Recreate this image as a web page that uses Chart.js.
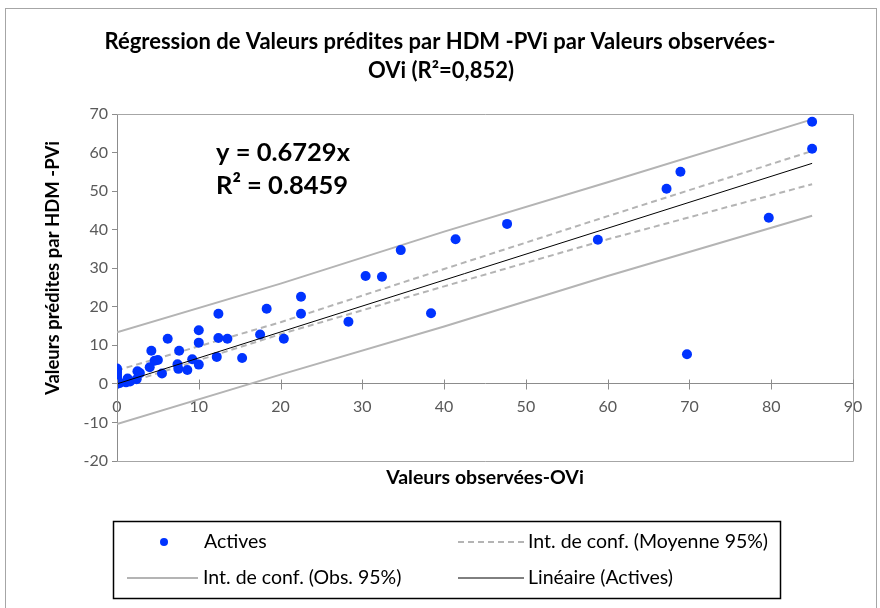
<!DOCTYPE html>
<html>
<head>
<meta charset="utf-8">
<script src="https://cdn.jsdelivr.net/npm/chart.js@4.4.1/dist/chart.umd.min.js"></script>
<style>
  body { margin: 0; background: #fff; }
  canvas { display: block; }
</style>
</head>
<body>
<canvas id="chart" width="880" height="608"></canvas>
<script>
var obsX = [0, 0, 0, 0, 0, 0, 0, 0, 0, 0.3, 1.1, 1.3, 1.6, 2.4, 2.5, 2.8, 4.0, 4.2, 4.6, 5.0,
            5.5, 6.2, 7.4, 7.5, 7.6, 8.6, 9.2, 10.0, 10.0, 10.0, 12.2, 12.4, 12.4, 13.5, 15.3,
            17.5, 18.3, 20.4, 22.5, 22.5, 28.3, 30.4, 32.4, 34.7, 38.4, 41.4, 47.7, 58.8,
            67.2, 68.9, 69.7, 79.7, 85.0, 85.0];
var predY = [0.0, 0.5, 1.0, 1.5, 2.0, 2.5, 3.0, 3.5, 4.0, 0.2, 0.4, 1.4, 0.6, 1.2, 3.3, 2.8, 4.3, 8.6, 6.0, 6.2,
             2.7, 11.7, 5.1, 3.9, 8.6, 3.6, 6.4, 5.0, 10.7, 13.9, 7.0, 18.2, 11.9, 11.7, 6.7,
             12.8, 19.5, 11.7, 22.6, 18.2, 16.1, 28.0, 27.8, 34.7, 18.3, 37.5, 41.5, 37.4,
             50.6, 55.0, 7.7, 43.1, 68.0, 61.0];

// confidence bands, read at a few x positions
var bandX     = [0, 20, 40, 60, 85];
var obsUpper  = [13.4, 26.0, 39.5, 52.3, 68.6];
var obsLower  = [-10.4, 2.4, 14.9, 28.0, 43.6];
var meanUpper = [3.5, 16.0, 29.8, 43.5, 60.4];
var meanLower = [-0.6, 12.9, 25.3, 37.5, 51.8];

// excel trendline y = 0.6729x
var fitX = [0, 85];
var fitY = [0, 57.2];

var xTicks = [0, 10, 20, 30, 40, 50, 60, 70, 80, 90];
var yTicks = [-20, -10, 0, 10, 20, 30, 40, 50, 60, 70];

var chartTitle = ['Régression de Valeurs prédites par HDM -PVi par Valeurs observées-', 'OVi (R²=0,852)'];
var xTitle = 'Valeurs observées-OVi';
var yTitle = 'Valeurs prédites par HDM -PVi';
var equation = ['y = 0.6729x', 'R² = 0.8459'];

function pts(xs, ys) {
    return xs.map(function (x, i) { return { x: x, y: ys[i] }; });
}

var BLUE = 'rgb(0,51,255)';
var GREY = '#b4b4b4';

// draws the bits chart.js has no option for: frames, cross ticks, titles, equation, legend
var extras = {
    id: 'extras',
    afterDraw: function (chart) {
        var ctx = chart.ctx;
        var a = chart.chartArea;
        var xs = chart.scales.x, ys = chart.scales.y;
        ctx.save();

        // outer frame
        ctx.strokeStyle = '#a6a6a6';
        ctx.lineWidth = 1;
        ctx.strokeRect(5.5, 8.5, 871, 610);

        // plot area box
        ctx.beginPath();
        ctx.moveTo(a.left, a.top + 0.5);
        ctx.lineTo(a.right + 0.5, a.top + 0.5);
        ctx.lineTo(a.right + 0.5, a.bottom + 0.5);
        ctx.lineTo(a.left, a.bottom + 0.5);
        ctx.stroke();

        // cross tick marks on the x axis
        var y0 = Math.round(ys.getPixelForValue(0)) + 0.5;
        ctx.strokeStyle = '#8c8c8c';
        ctx.beginPath();
        xTicks.forEach(function (t) {
            var px = Math.round(xs.getPixelForValue(t)) + 0.5;
            ctx.moveTo(px, y0 - 5);
            ctx.lineTo(px, y0 + 5);
        });
        ctx.stroke();

        ctx.fillStyle = '#000';
        ctx.textAlign = 'center';
        ctx.textBaseline = 'middle';

        // chart title
        ctx.font = 'bold 22px Lato';
        ctx.fillText(chartTitle[0], 440, 42);
        ctx.fillText(chartTitle[1], 441, 71);

        ctx.font = 'bold 19.5px Lato';
        ctx.fillText(xTitle, 485, 478);

        ctx.save();
        ctx.translate(53, 268);
        ctx.rotate(-Math.PI / 2);
        ctx.font = 'bold 18.5px Lato';
        ctx.fillText(yTitle, 0, 0);
        ctx.restore();

        ctx.font = 'bold 25.5px Lato';
        ctx.textAlign = 'left';
        ctx.fillText(equation[0], 216, 153);
        ctx.fillText(equation[1], 216, 186);

        // legend
        ctx.strokeStyle = '#000';
        ctx.lineWidth = 1.5;
        ctx.strokeRect(113.5, 521.5, 667, 77);

        var ds = chart.data.datasets;
        ctx.font = '19.5px Lato';
        ctx.fillStyle = '#000';

        function sample(d, x1, x2, y) {
            ctx.save();
            ctx.strokeStyle = d.borderColor;
            ctx.lineWidth = d.borderWidth;
            ctx.setLineDash(d.borderDash || []);
            ctx.beginPath();
            ctx.moveTo(x1, y);
            ctx.lineTo(x2, y);
            ctx.stroke();
            ctx.restore();
        }

        ctx.beginPath();
        ctx.fillStyle = BLUE;
        ctx.arc(164, 542, 4, 0, Math.PI * 2);
        ctx.fill();
        ctx.fillStyle = '#000';
        ctx.fillText(ds[1].label, 204, 542);

        sample(ds[2], 458, 524, 542);
        ctx.fillText(ds[2].label, 528, 542);

        sample(ds[4], 127, 198, 578);
        ctx.fillText(ds[4].label, 203, 578);

        sample(ds[0], 458, 524, 578);
        ctx.fillText(ds[0].label, 528, 578);

        ctx.restore();
    }
};

new Chart(document.getElementById('chart'), {
    type: 'scatter',
    data: {
        datasets: [
            { label: 'Linéaire (Actives)', data: pts(fitX, fitY), showLine: true,
              borderColor: '#000', borderWidth: 1, pointRadius: 0 },
            { label: 'Actives', data: pts(obsX, predY), backgroundColor: BLUE,
              borderColor: BLUE, pointRadius: 5, pointBorderWidth: 0 },
            { label: 'Int. de conf. (Moyenne 95%)', data: pts(bandX, meanUpper), showLine: true,
              borderColor: GREY, borderWidth: 2, borderDash: [6, 4], pointRadius: 0 },
            { label: 'Int. de conf. (Moyenne 95%) bas', data: pts(bandX, meanLower), showLine: true,
              borderColor: GREY, borderWidth: 2, borderDash: [6, 4], pointRadius: 0 },
            { label: 'Int. de conf. (Obs. 95%)', data: pts(bandX, obsUpper), showLine: true,
              borderColor: GREY, borderWidth: 2, pointRadius: 0 },
            { label: 'Int. de conf. (Obs. 95%) bas', data: pts(bandX, obsLower), showLine: true,
              borderColor: GREY, borderWidth: 2, pointRadius: 0 }
        ]
    },
    options: {
        responsive: false,
        animation: false,
        devicePixelRatio: 1,
        layout: { padding: { left: 0, right: 27, bottom: 147, top: 114 } },
        plugins: {
            legend: { display: false },
            tooltip: { enabled: false },
            title: { display: false }
        },
        scales: {
            x: {
                type: 'linear',
                min: 0, max: 90,
                position: { y: 0 },
                afterBuildTicks: function (s) { s.ticks = xTicks.map(function (v) { return { value: v }; }); },
                ticks: { color: '#595959', font: { family: 'Lato', size: 16 }, padding: 13 },
                grid: { display: true, drawOnChartArea: false, drawTicks: false },
                border: { color: '#8c8c8c' }
            },
            y: {
                type: 'linear',
                min: -20, max: 70,
                position: 'left',
                afterBuildTicks: function (s) { s.ticks = yTicks.map(function (v) { return { value: v }; }); },
                afterFit: function (s) { s.width = 117; },
                ticks: { color: '#595959', font: { family: 'Lato', size: 16 }, padding: 4 },
                grid: { drawOnChartArea: false, tickLength: 5, color: '#8c8c8c' },
                border: { color: '#8c8c8c' }
            }
        }
    },
    plugins: [extras]
});
</script>
</body>
</html>
